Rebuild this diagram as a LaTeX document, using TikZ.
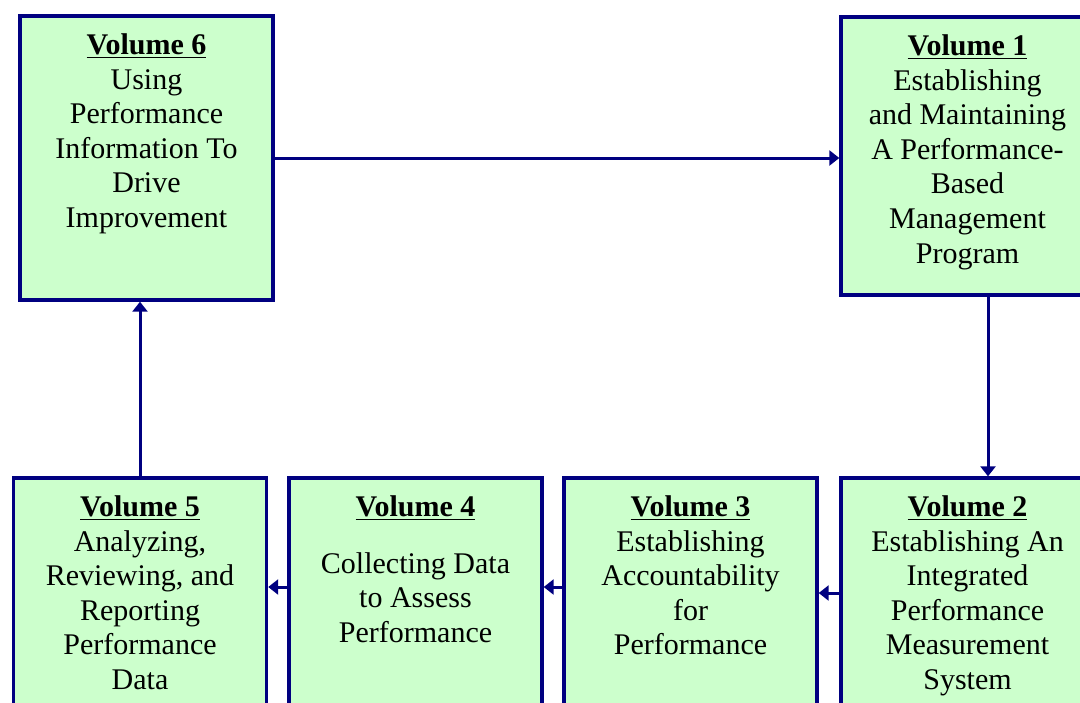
\documentclass[tikz,border=0pt]{standalone}
\usepackage{fontspec}
\setmainfont{Liberation Serif}
\usetikzlibrary{arrows.meta}

\definecolor{volfill}{HTML}{CCFFCC}
\definecolor{volline}{HTML}{000080}

\tikzset{
  volbox/.style={draw=volline, fill=volfill, line width=1.7pt,
    minimum width=126.5pt, minimum height=142pt, inner sep=0pt},
  voltext/.style={anchor=north, align=center, inner sep=0pt, yshift=-9.5pt,
    font=\fontsize{15}{17.3}\selectfont},
  flow/.style={draw=volline, line width=1.5pt,
    -{Triangle[length=5pt,width=7.5pt]}}
}
\newcommand{\voltitle}[1]{\underline{\textbf{Volume #1}}}

\begin{document}
\begin{tikzpicture}[x=0.5pt,y=-0.5pt]
    \useasboundingbox (0,0) rectangle (1080,702);
    % top row
    \node[volbox] (vol6) at (146.5,158) {};
    \node[volbox, minimum height=139pt] (vol1) at (967.5,156) {};
    % bottom row
    \node[volbox] (vol5) at (140,620) {};
    \node[volbox] (vol4) at (415.5,620) {};
    \node[volbox] (vol3) at (690.5,620) {};
    \node[volbox] (vol2) at (967.5,620) {};
    % texts
    \node[voltext] (vol6t) at (vol6.north) {\voltitle{6}\\Using\\Performance\\Information To\\Drive\\Improvement};
    \node[voltext] (vol1t) at (vol1.north) {\voltitle{1}\\Establishing\\and Maintaining\\A Performance-\\Based\\Management\\Program};
    \node[voltext] (vol5t) at (vol5.north) {\voltitle{5}\\Analyzing,\\Reviewing, and\\Reporting\\Performance\\Data};
    \node[voltext] (vol4t) at (vol4.north) {\voltitle{4}\\[11pt]Collecting Data\\to Assess\\Performance};
    \node[voltext] (vol3t) at (vol3.north) {\voltitle{3}\\Establishing\\Accountability\\for\\Performance};
    \node[voltext] (vol2t) at (vol2.north) {\voltitle{2}\\Establishing An\\Integrated\\Performance\\Measurement\\System};
    % cycle
    \draw[flow] (vol6.east) -- (vol6.east -| vol1.west);
    \draw[flow] ([xshift=10.25pt]vol1.south) -- ([xshift=10.25pt]vol1.south |- vol2.north);
    \draw[flow] ([yshift=13.5pt]vol2.west) -- ([yshift=13.5pt]vol2.west -| vol3.east);
    \draw[flow] ([yshift=16.5pt]vol3.west) -- ([yshift=16.5pt]vol3.west -| vol4.east);
    \draw[flow] ([yshift=16.5pt]vol4.west) -- ([yshift=16.5pt]vol4.west -| vol5.east);
    \draw[flow] (vol5.north) -- (vol5.north |- vol6.south);
\end{tikzpicture}
\end{document}
